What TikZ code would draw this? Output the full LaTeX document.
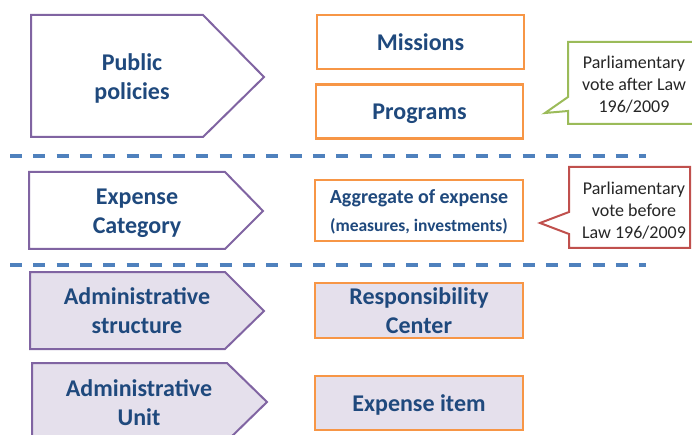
\documentclass[tikz,border=0pt]{standalone}
\usepackage{fontspec}
\setmainfont{Carlito}
\definecolor{purpleline}{RGB}{128,100,162}
\definecolor{lavender}{RGB}{229,224,236}
\definecolor{orangeline}{RGB}{247,150,70}
\definecolor{sepblue}{RGB}{79,129,189}
\definecolor{greenline}{RGB}{155,187,89}
\definecolor{redline}{RGB}{192,80,77}
\definecolor{labelblue}{RGB}{31,73,125}
\definecolor{calltext}{RGB}{38,38,38}
\begin{document}
\begin{tikzpicture}[x=1pt,y=-1pt,
  pent/.style={draw=purpleline, line width=2pt, line join=miter},
  box/.style={draw=orangeline, line width=2.4pt, inner sep=0pt, minimum width=207pt,
    text=labelblue, font=\bfseries\fontsize{24}{29}\selectfont, align=center, text depth=0pt},
  lab/.style={text=labelblue, font=\bfseries\fontsize{24}{29}\selectfont, align=center,
    inner sep=0pt, text depth=0pt},
  callout/.style={line width=2pt, line join=miter, fill=white},
  ctext/.style={text=calltext, font=\fontsize{18}{22}\selectfont, align=center,
    inner sep=0pt, text depth=0pt},
  sep/.style={draw=sepblue, line width=3.2pt, dash pattern=on 12pt off 11.3pt}]
\useasboundingbox (0,0) rectangle (692,435);
\clip (0,0) rectangle (692,435);

% section separators
\draw[sep] (10,156) -- (646,156);
\draw[sep] (10,265) -- (646,265);

% pentagons on the left
\draw[pent, fill=white] (31,15) -- (203,15) -- (264,77) -- (203,137) -- (31,137) -- cycle;
\node[lab] (pubpol) at (132,77) {Public\\policies};

\draw[pent, fill=white] (29,172) -- (225,172) -- (263,211) -- (225,249) -- (29,249) -- cycle;
\node[lab] (expcat) at (137,211) {Expense\\Category};

\draw[pent, fill=lavender] (30,272) -- (225,272) -- (264,311) -- (225,349) -- (30,349) -- cycle;
\node[lab] (admstr) at (137,311) {Administrative\\structure};

\draw[pent, fill=lavender] (32,363) -- (227,363) -- (267,402) -- (227,441) -- (32,441) -- cycle;
\node[lab] (admunit) at (139,402.5) {Administrative\\Unit};

% boxes in the middle
\node[box, fill=white, minimum height=54pt] (missions) at (420.5,42) {Missions};
\node[box, fill=white, minimum height=54pt] (programs) at (419.5,111.5) {Programs};
\node[box, fill=white, minimum width=208pt, minimum height=61pt] (aggr) at (419,210.5)
  {\fontsize{20}{22}\selectfont Aggregate of expense\\[-1pt]\fontsize{17.5}{22}\selectfont (measures, investments)};
\node[box, fill=lavender, minimum width=208pt, minimum height=55pt] (resp) at (419,310.5) {Responsibility\\Center};
\node[box, fill=lavender, minimum width=208pt, minimum height=54pt] (item) at (419,403) {Expense item};

% callouts on the right
\draw[callout, draw=greenline] (568,42) -- (700,42) -- (700,124) -- (568,124) -- (568,111)
  -- (545,113) -- (568,97) -- cycle;
\node[ctext] (voteafter) at (634,84) {Parliamentary\\vote after Law\\196/2009};

\draw[callout, draw=redline] (569,167) -- (690,167) -- (690,248) -- (569,248) -- (569,234)
  -- (540,223) -- (569,212) -- cycle;
\node[ctext] (votebefore) at (634,210) {Parliamentary\\vote before\\Law 196/2009};
\end{tikzpicture}
\end{document}
